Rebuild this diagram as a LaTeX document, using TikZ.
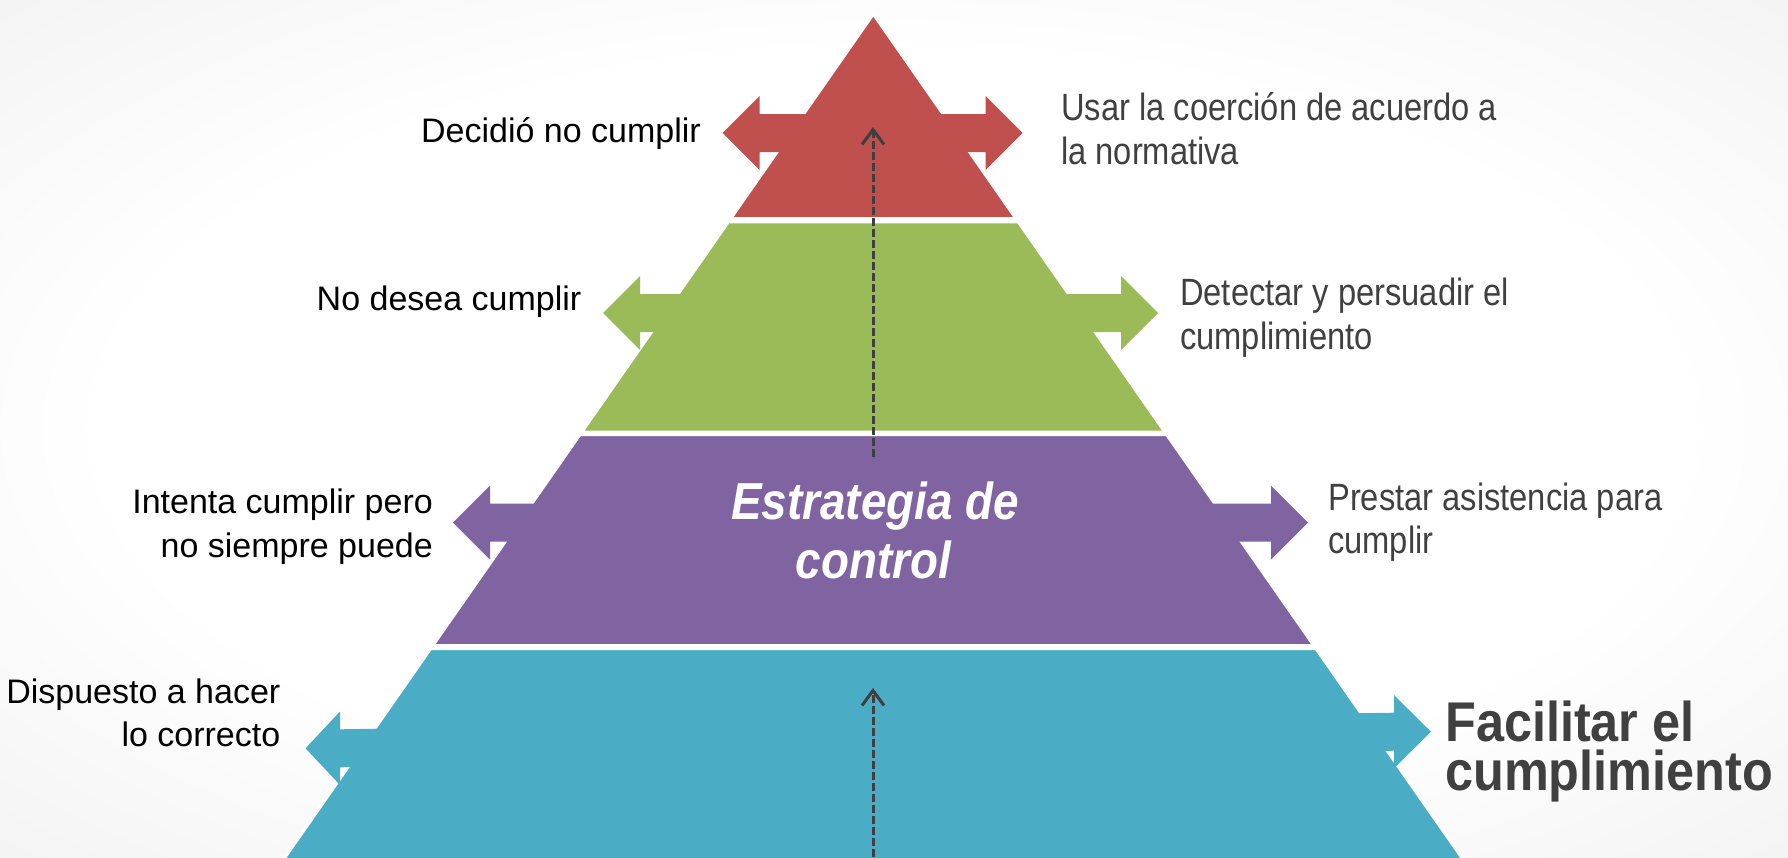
\documentclass[tikz,border=0pt]{standalone}
\usepackage{fontspec}
\setmainfont{Liberation Sans}
\newfontfamily\leftfont{Liberation Sans}
\newfontfamily\rightfont[FakeStretch=0.86]{Liberation Sans}
\newfontfamily\bigfont[FakeStretch=0.9]{Liberation Sans}
\newfontfamily\midfont[FakeStretch=0.88]{Liberation Sans}
\usetikzlibrary{arrows.meta}
\definecolor{cred}{HTML}{C0504D}
\definecolor{cgreen}{HTML}{9BBB59}
\definecolor{cpurple}{HTML}{8064A2}
\definecolor{cteal}{HTML}{4BACC6}
\definecolor{textgray}{HTML}{404040}
\definecolor{dashgray}{HTML}{3F3F3F}
\definecolor{bggray}{HTML}{D6D6D6}
\pgfdeclareradialshading{bgshade}{\pgfpoint{0bp}{0bp}}{color(0bp)=(white); color(22bp)=(white); color(71bp)=(bggray)}
\newcommand\dblarrow[4]{%
  \fill[#1] (#2,#4) -- ({#2+37},{#4-37}) -- ({#2+37},{#4-19}) -- ({#3-37},{#4-19})
   -- ({#3-37},{#4-37}) -- (#3,#4) -- ({#3-37},{#4+37}) -- ({#3-37},{#4+19})
   -- ({#2+37},{#4+19}) -- ({#2+37},{#4+37}) -- cycle;}
\tikzset{
  band/.style={draw=white, line width=3pt, line join=miter},
  lbl/.style={inner sep=0pt, font=\leftfont\fontsize{34}{40}\selectfont, text=black},
  rlbl/.style={inner sep=0pt, font=\rightfont\fontsize{38}{44}\selectfont, text=textgray},
  biglbl/.style={inner sep=0pt, font=\bigfont\bfseries\fontsize{56}{49}\selectfont, text=textgray},
  midlbl/.style={inner sep=0pt, font=\midfont\bfseries\itshape\fontsize{52}{58}\selectfont, text=white},
  dasharrow/.style={draw=dashgray, line width=3pt, dash pattern=on 8pt off 3pt,
    -{Straight Barb[length=15pt,width=22pt]}},
}
\begin{document}
\begin{tikzpicture}[x=1pt,y=-1pt]
\useasboundingbox (0,0) rectangle (1788,857);
\shade[shading=bgshade] (0,0) rectangle (1788,857);
\clip (0,0) rectangle (1788,857);
% pyramid bands
\fill[cred, band] (873.3,14) -- (1015.9,218.5) -- (730.7,218.5) -- cycle;
\fill[cgreen, band] (728.4,221.8) -- (1018.2,221.8) -- (1165.0,432.2) -- (581.6,432.2) -- cycle;
\fill[cpurple, band] (580.0,434.5) -- (1166.6,434.5) -- (1313.8,645.5) -- (432.8,645.5) -- cycle;
\fill[cteal, band] (430.7,648.5) -- (1315.9,648.5) -- (1470.4,870) -- (276.2,870) -- cycle;
% double arrows
\dblarrow{cred}{722.7}{1022.7}{133}
\dblarrow{cgreen}{603}{1158}{313}
\dblarrow{cpurple}{453}{1308}{522.7}
\fill[cteal] (305.6,748.3) -- (340,711.5) -- (340,729.3) -- (1394,712.7) -- (1394,695.2)
  -- (1431,731.7) -- (1394,768.2) -- (1394,750.7) -- (340,767.3) -- (340,785) -- cycle;
% dashed arrows
\coordinate (d1s) at (873,457);
\coordinate (d1e) at (873,127);
\coordinate (d2s) at (873,857);
\coordinate (d2e) at (873,688);
\draw[dasharrow] (d1s) -- (d1e);
\draw[dasharrow] (d2s) -- (d2e);
% labels
\node[lbl, anchor=base east] (l1) at (701,142) {Decidió no cumplir};
\node[rlbl, anchor=base west] (r1a) at (1061,120) {Usar la coerción de acuerdo a};
\node[rlbl, anchor=base west] (r1b) at (1061,164) {la normativa};
\node[lbl, anchor=base east] (l2) at (581.5,310) {No desea cumplir};
\node[rlbl, anchor=base west] (r2a) at (1180,305) {Detectar y persuadir el};
\node[rlbl, anchor=base west] (r2b) at (1180,349) {cumplimiento};
\node[lbl, anchor=base east] (l3a) at (433,513) {Intenta cumplir pero};
\node[lbl, anchor=base east] (l3b) at (433,557) {no siempre puede};
\node[rlbl, anchor=base west] (r3a) at (1328,510) {Prestar asistencia para};
\node[rlbl, anchor=base west] (r3b) at (1328,553) {cumplir};
\node[lbl, anchor=base east] (l4a) at (280.5,703) {Dispuesto a hacer};
\node[lbl, anchor=base east] (l4b) at (280.5,746) {lo correcto};
\node[biglbl, anchor=base west, align=left] (r4) at (1445,790) {Facilitar el\\cumplimiento};
\node[midlbl, anchor=base] (m1) at (875,519) {Estrategia de};
\node[midlbl, anchor=base] (m2) at (873.5,578) {control};
\end{tikzpicture}
\end{document}
